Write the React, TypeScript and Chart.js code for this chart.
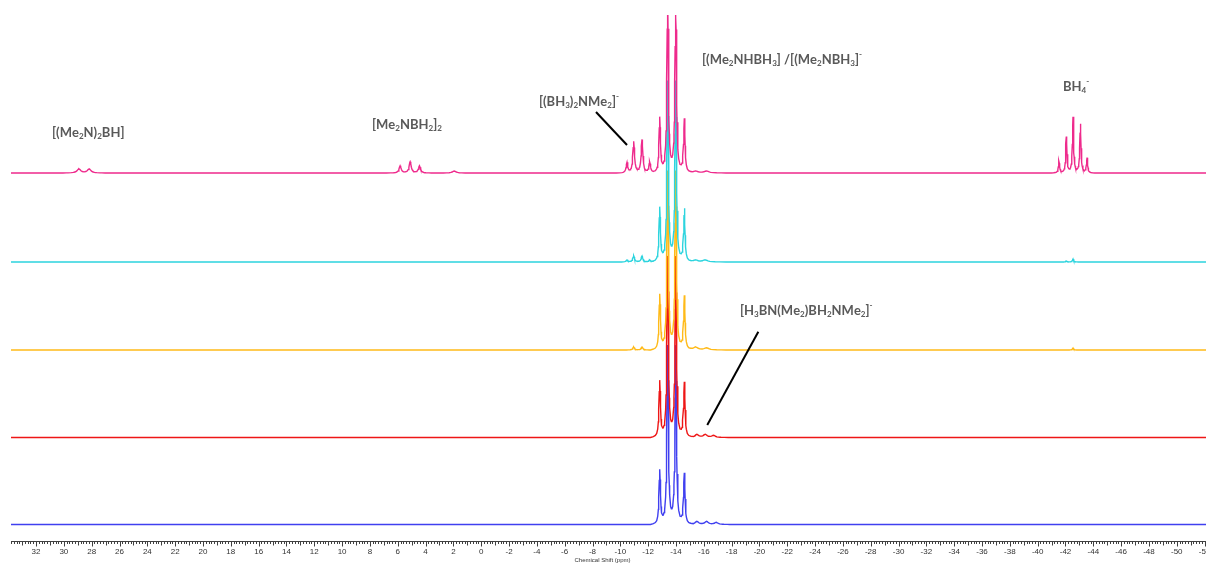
import React, { useEffect, useRef } from "react";
import { Chart, registerables } from "chart.js";

Chart.register(...registerables);

// ---- axis range (ppm), x axis reversed as in NMR plots ----
const PPM_MIN = -52.1;
const PPM_MAX = 33.8;
const LABEL_STEP = 2;
const MINOR_STEP = 0.2;
const AXIS_TITLE = "Chemical Shift (ppm)";

// ---- stacked traces (top to bottom) ----
const traceColors = [
  "rgb(238,42,140)",
  "rgb(44,212,222)",
  "rgb(255,186,24)",
  "rgb(238,22,22)",
  "rgb(64,64,240)",
];
// vertical offset of every trace baseline (intensity units)
const traceBaselines = [368, 279, 191, 103.5, 16.5];

// peaks: [ppm, height, relative width]
const pinkPeaks: [number, number, number][] = [
  [28.92, 4, 3], [28.18, 4, 3],
  [5.83, 7, 1.8], [5.11, 11, 1.8], [4.44, 7, 1.8], [1.94, 2, 3],
  [-10.48, 10, 1.4], [-10.96, 31, 1.4], [-11.56, 33, 1.4], [-12.11, 11, 1.4],
  [-12.83, 55, 1.2], [-13.4, 178, 1.2], [-13.98, 178, 1.2], [-14.6, 54, 1.2],
  [-15.4, 2, 4], [-16.2, 2, 4],
  [-41.53, 12, 1], [-42.06, 36, 1], [-42.54, 56, 1], [-43.07, 49, 1], [-43.55, 15, 1],
];
const cyanPeaks: [number, number, number][] = [
  [-10.48, 2, 1.4], [-10.96, 6, 1.4], [-11.56, 6, 1.4], [-12.11, 2, 1.4],
  [-12.83, 54, 1.2], [-13.4, 180, 1.2], [-13.98, 180, 1.2], [-14.6, 53, 1.2],
  [-15.4, 2, 4], [-16.1, 2, 4],
  [-42.06, 1, 1], [-42.54, 3, 1],
];
const orangePeaks: [number, number, number][] = [
  [-10.96, 3, 1.4], [-11.56, 3, 1.4],
  [-12.83, 55, 1.2], [-13.4, 178, 1.2], [-13.98, 178, 1.2], [-14.6, 54, 1.2],
  [-15.4, 3, 4], [-16.2, 2, 4],
  [-42.54, 2, 1],
];
const redPeaks: [number, number, number][] = [
  [-12.83, 56, 1.2], [-13.4, 180, 1.2], [-13.98, 180, 1.2], [-14.6, 55, 1.2],
  [-15.5, 3, 3], [-16.1, 3, 3], [-16.7, 2, 3],
];
const bluePeaks: [number, number, number][] = [
  [-12.83, 54, 1.2], [-13.4, 178, 1.2], [-13.98, 178, 1.2], [-14.6, 51, 1.2],
  [-15.5, 3, 3], [-16.2, 3, 3], [-16.9, 2, 3],
];
const tracePeaks = [pinkPeaks, cyanPeaks, orangePeaks, redPeaks, bluePeaks];

// narrow Lorentzian-like line shape: ppm distance from the centre -> relative height
const SHAPE_OFFSETS = [0, 0.025, 0.05, 0.08, 0.12, 0.18, 0.26, 0.38, 0.55];
const SHAPE_VALUES = [1, 0.8, 0.5, 0.281, 0.148, 0.072, 0.036, 0.017, 0];

// ---- annotations: label text, ppm, intensity ----
const labelTexts = [
  "[(Me_2N)_2BH]",
  "[Me_2NBH_2]_2",
  "[(BH_3)_2NMe_2]^-",
  "[(Me_2NHBH_3] /[(Me_2NBH_3]^-",
  "BH_4^-",
  "[H_3BN(Me_2)BH_2NMe_2]^-",
];
const labelPpm = [30.85, 7.85, -4.15, -15.87, -41.82, -18.6];
const labelLevel = [408, 416, 439, 481, 454, 230];
// pointer lines: [ppm1, level1, ppm2, level2]
const pointerLines: [number, number, number, number][] = [
  [-8.25, 429, -10.48, 396],
  [-19.92, 209.3, -16.25, 116],
];

function shapeAt(d: number) {
  const a = Math.abs(d);
  for (let i = 1; i < SHAPE_OFFSETS.length; i++) {
    if (a <= SHAPE_OFFSETS[i]) {
      const t = (a - SHAPE_OFFSETS[i - 1]) / (SHAPE_OFFSETS[i] - SHAPE_OFFSETS[i - 1]);
      return SHAPE_VALUES[i - 1] + t * (SHAPE_VALUES[i] - SHAPE_VALUES[i - 1]);
    }
  }
  return 0;
}

function buildTrace(base: number, peaks: [number, number, number][]) {
  const xs = new Set<number>([PPM_MAX, PPM_MIN]);
  for (const [pos, , w] of peaks) {
    for (const o of SHAPE_OFFSETS) {
      xs.add(+(pos + o * w).toFixed(4));
      xs.add(+(pos - o * w).toFixed(4));
    }
  }
  const sorted = [...xs].sort((a, b) => b - a);
  return sorted.map((x) => {
    let y = base;
    for (const [pos, h, w] of peaks) y += h * shapeAt((x - pos) / w);
    return { x, y };
  });
}

const FONT_LABEL = "Lato, 'Open Sans', sans-serif";

function drawRich(ctx: CanvasRenderingContext2D, text: string, x: number, y: number, size: number) {
  let cx = x;
  let i = 0;
  while (i < text.length) {
    const ch = text[i];
    if ((ch === "_" || ch === "^") && i + 1 < text.length) {
      const s = text[i + 1];
      const small = size * 0.62;
      ctx.font = `bold ${small}px ${FONT_LABEL}`;
      const dy = ch === "_" ? size * 0.28 : -size * 0.42;
      ctx.fillText(s, cx, y + dy);
      cx += ctx.measureText(s).width;
      i += 2;
    } else {
      ctx.font = `bold ${size}px ${FONT_LABEL}`;
      ctx.fillText(ch, cx, y);
      cx += ctx.measureText(ch).width;
      i += 1;
    }
  }
}

const overlayPlugin = {
  id: "nmrOverlay",
  afterDraw(chart: any) {
    const { ctx, chartArea } = chart;
    const xs = chart.scales.x;
    const ys = chart.scales.y;
    ctx.save();
    // axis line
    const axisY = chartArea.bottom + 0.5;
    ctx.strokeStyle = "#404040";
    ctx.lineWidth = 1;
    ctx.beginPath();
    ctx.moveTo(chartArea.left, axisY);
    ctx.lineTo(chartArea.right, axisY);
    ctx.stroke();
    // ticks
    const kMin = Math.ceil(PPM_MIN / MINOR_STEP - 1e-6);
    const kMax = Math.floor(PPM_MAX / MINOR_STEP + 1e-6);
    ctx.beginPath();
    for (let k = kMin; k <= kMax; k++) {
      const v = k * MINOR_STEP;
      const px = Math.round(xs.getPixelForValue(v)) + 0.5;
      const len = k % 10 === 0 ? 5 : k % 5 === 0 ? 4 : 2.5;
      ctx.moveTo(px, axisY);
      ctx.lineTo(px, axisY + len);
    }
    ctx.stroke();
    // tick labels
    ctx.fillStyle = "#333";
    ctx.font = "8px 'Liberation Sans', Arial, sans-serif";
    ctx.textAlign = "center";
    ctx.textBaseline = "middle";
    for (let v = Math.ceil(PPM_MIN / LABEL_STEP) * LABEL_STEP; v <= PPM_MAX; v += LABEL_STEP) {
      ctx.fillText(String(v), xs.getPixelForValue(v), axisY + 10);
    }
    // title
    ctx.font = "6px 'Liberation Sans', Arial, sans-serif";
    ctx.fillText(AXIS_TITLE, (chartArea.left + chartArea.right) / 2 - 6, axisY + 19);

    // pointer lines
    ctx.strokeStyle = "#000";
    ctx.lineWidth = 2;
    for (const [p1, l1, p2, l2] of pointerLines) {
      ctx.beginPath();
      ctx.moveTo(xs.getPixelForValue(p1), ys.getPixelForValue(l1));
      ctx.lineTo(xs.getPixelForValue(p2), ys.getPixelForValue(l2));
      ctx.stroke();
    }
    // labels
    ctx.fillStyle = "#595959";
    ctx.textAlign = "left";
    ctx.textBaseline = "middle";
    labelTexts.forEach((t, i) => {
      drawRich(ctx, t, xs.getPixelForValue(labelPpm[i]), ys.getPixelForValue(labelLevel[i]), 13);
    });
    ctx.restore();
  },
};

export default function App() {
  const ref = useRef<HTMLCanvasElement | null>(null);
  useEffect(() => {
    if (!ref.current) return;
    const datasets = tracePeaks.map((peaks, i) => ({
      data: buildTrace(traceBaselines[i], peaks),
      borderColor: traceColors[i],
      backgroundColor: traceColors[i],
      borderWidth: 1.4,
      pointRadius: 0,
      tension: 0,
      fill: false,
    }));
    const chart = new Chart(ref.current, {
      type: "line",
      data: { datasets },
      options: {
        animation: false,
        responsive: false,
        devicePixelRatio: 1,
        layout: { padding: { left: 11, right: 0, top: 15, bottom: 24 } },
        scales: {
          x: { type: "linear", reverse: true, min: PPM_MIN, max: PPM_MAX, display: false },
          y: { type: "linear", min: 0, max: 526, display: false },
        },
        plugins: { legend: { display: false }, tooltip: { enabled: false } },
      },
      plugins: [overlayPlugin],
    } as any);
    return () => chart.destroy();
  }, []);
  return (
    <div style={{ position: "absolute", left: 0, top: 0, width: 1206, height: 565, background: "#fff" }}>
      <canvas ref={ref} width={1206} height={565} style={{ width: 1206, height: 565, display: "block" }} />
    </div>
  );
}
